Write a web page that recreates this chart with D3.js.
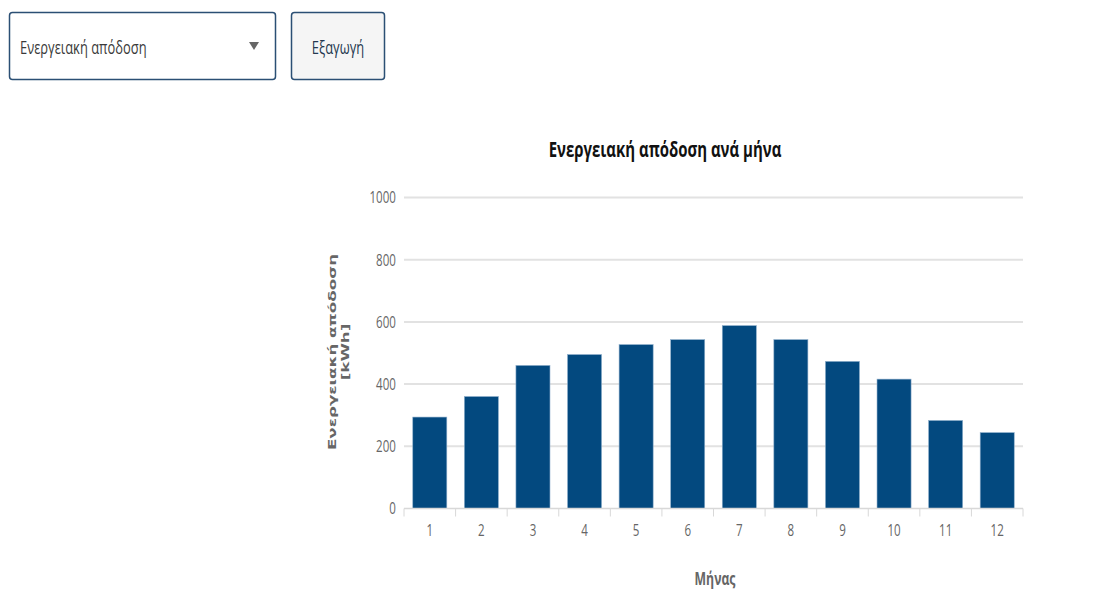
<!DOCTYPE html>
<html>
<head>
<meta charset="utf-8">
<script src="https://cdn.jsdelivr.net/npm/d3@7"></script>
<style>
  html, body { margin: 0; padding: 0; background: #fff; width: 1105px; height: 614px; overflow: hidden; }
  svg { display: block; }
</style>
</head>
<body>
<svg id="chart" width="1105" height="614"></svg>
<script>
const months = ["1","2","3","4","5","6","7","8","9","10","11","12"];
const energy = [294, 360, 460, 495, 527, 543, 588, 543, 473, 416, 283, 244];
const yTicks = [0, 200, 400, 600, 800, 1000];
const chartTitle = "Ενεργειακή απόδοση ανά μήνα";
const yTitle = ["Ενεργειακή απόδοση", "[kWh]"];
const xTitle = "Μήνας";
const selectLabel = "Ενεργειακή απόδοση";
const buttonLabel = "Εξαγωγή";

(function () {
const svg = d3.select("#chart");
const ff = "'Open Sans', 'Noto Sans', sans-serif";
const SX = 0.68;

// text at (x,y), horizontally condensed
function ctext(parent, x, y, str, size, opts = {}) {
  const t = parent.append("text")
    .attr("transform", `translate(${x},${y}) scale(${SX},1)`)
    .attr("font-family", opts.family || ff).attr("font-size", size)
    .attr("font-weight", opts.weight || "normal")
    .attr("fill", opts.fill || "#333")
    .attr("text-anchor", opts.anchor || "start")
    .text(str);
  return t;
}

// Controls
const sel = svg.append("g");
sel.append("rect").attr("x", 9.5).attr("y", 12.5).attr("width", 266).attr("height", 67)
  .attr("rx", 3).attr("fill", "#fff").attr("stroke", "#2b4f74").attr("stroke-width", 1.5);
ctext(sel, 20, 54, selectLabel, 19, { fill: "#3a3a3a" });
sel.append("path").attr("d", "M249,42 L259,42 L254,50 Z").attr("fill", "#666");

const btn = svg.append("g");
btn.append("rect").attr("x", 291.5).attr("y", 12.5).attr("width", 93).attr("height", 67)
  .attr("rx", 3).attr("fill", "#f5f5f5").attr("stroke", "#2b4f74").attr("stroke-width", 1.5);
ctext(btn, 338, 54, buttonLabel, 19, { anchor: "middle", fill: "#24384f" });

// Chart
const pL = 404, pR = 1023, pT = 197.5, pB = 508.5;
const x = d3.scaleBand().domain(months).range([pL, pR]).paddingInner(0.34).paddingOuter(0.17);
const y = d3.scaleLinear().domain([0, 1000]).range([pB, pT]);

ctext(svg, 665, 157, chartTitle, 22, { anchor: "middle", weight: "bold", fill: "#111" });

// grid
svg.append("g").selectAll("line").data(yTicks.filter(d => d > 0)).join("line")
  .attr("x1", pL).attr("x2", pR).attr("y1", d => y(d)).attr("y2", d => y(d))
  .attr("stroke", "#e2e2e2").attr("stroke-width", 2);

// y axis labels
const yAxis = d3.axisLeft(y).tickValues(yTicks).tickFormat(d3.format("d")).tickSize(0).tickPadding(12);
const gy = svg.append("g").attr("transform", `translate(${pL},0)`).call(yAxis);
gy.select(".domain").remove();
gy.selectAll("text").attr("font-family", ff).attr("font-size", 17).attr("fill", "#666")
  .attr("transform", `scale(${SX},1)`);

// bars
svg.append("g").selectAll("rect").data(energy).join("rect")
  .attr("x", (d, i) => x(months[i])).attr("width", x.bandwidth())
  .attr("y", d => y(d)).attr("height", d => y(0) - y(d))
  .attr("fill", "#03497f").attr("stroke", "#8eaecb").attr("stroke-width", 0.6);

// x axis
const xb = d3.scaleLinear().domain([0, 12]).range([pL, pR]);
const gx = svg.append("g").attr("transform", `translate(0,${pB})`);
gx.append("line").attr("x1", pL).attr("x2", pR).attr("stroke", "#d8d8d8").attr("stroke-width", 1.5);
gx.selectAll("line.tk").data(d3.range(13)).join("line").attr("class", "tk")
  .attr("x1", d => xb(d)).attr("x2", d => xb(d)).attr("y1", 0).attr("y2", 8)
  .attr("stroke", "#d8d8d8");
const xAxis = d3.axisBottom(x).tickSize(0).tickPadding(15);
const gxl = svg.append("g").attr("transform", `translate(0,${pB})`).call(xAxis);
gxl.select(".domain").remove();
gxl.selectAll("text").attr("font-family", ff).attr("font-size", 17).attr("fill", "#666")
  .attr("transform", `scale(${SX},1)`);

// axis titles
ctext(svg, 715, 585, xTitle, 18, { anchor: "middle", weight: "bold", fill: "#666" });

const yt = svg.append("text").attr("transform", `translate(336,352) rotate(-90) scale(1,${SX})`)
  .attr("text-anchor", "middle").attr("font-family", "'DejaVu Sans', sans-serif")
  .attr("font-size", 16.7).attr("font-weight", "bold").attr("fill", "#666");
yt.append("tspan").attr("x", 0).attr("dy", 0).text(yTitle[0]);
yt.append("tspan").attr("x", 0).attr("dy", 19).text(yTitle[1]);
})();
</script>
</body>
</html>
